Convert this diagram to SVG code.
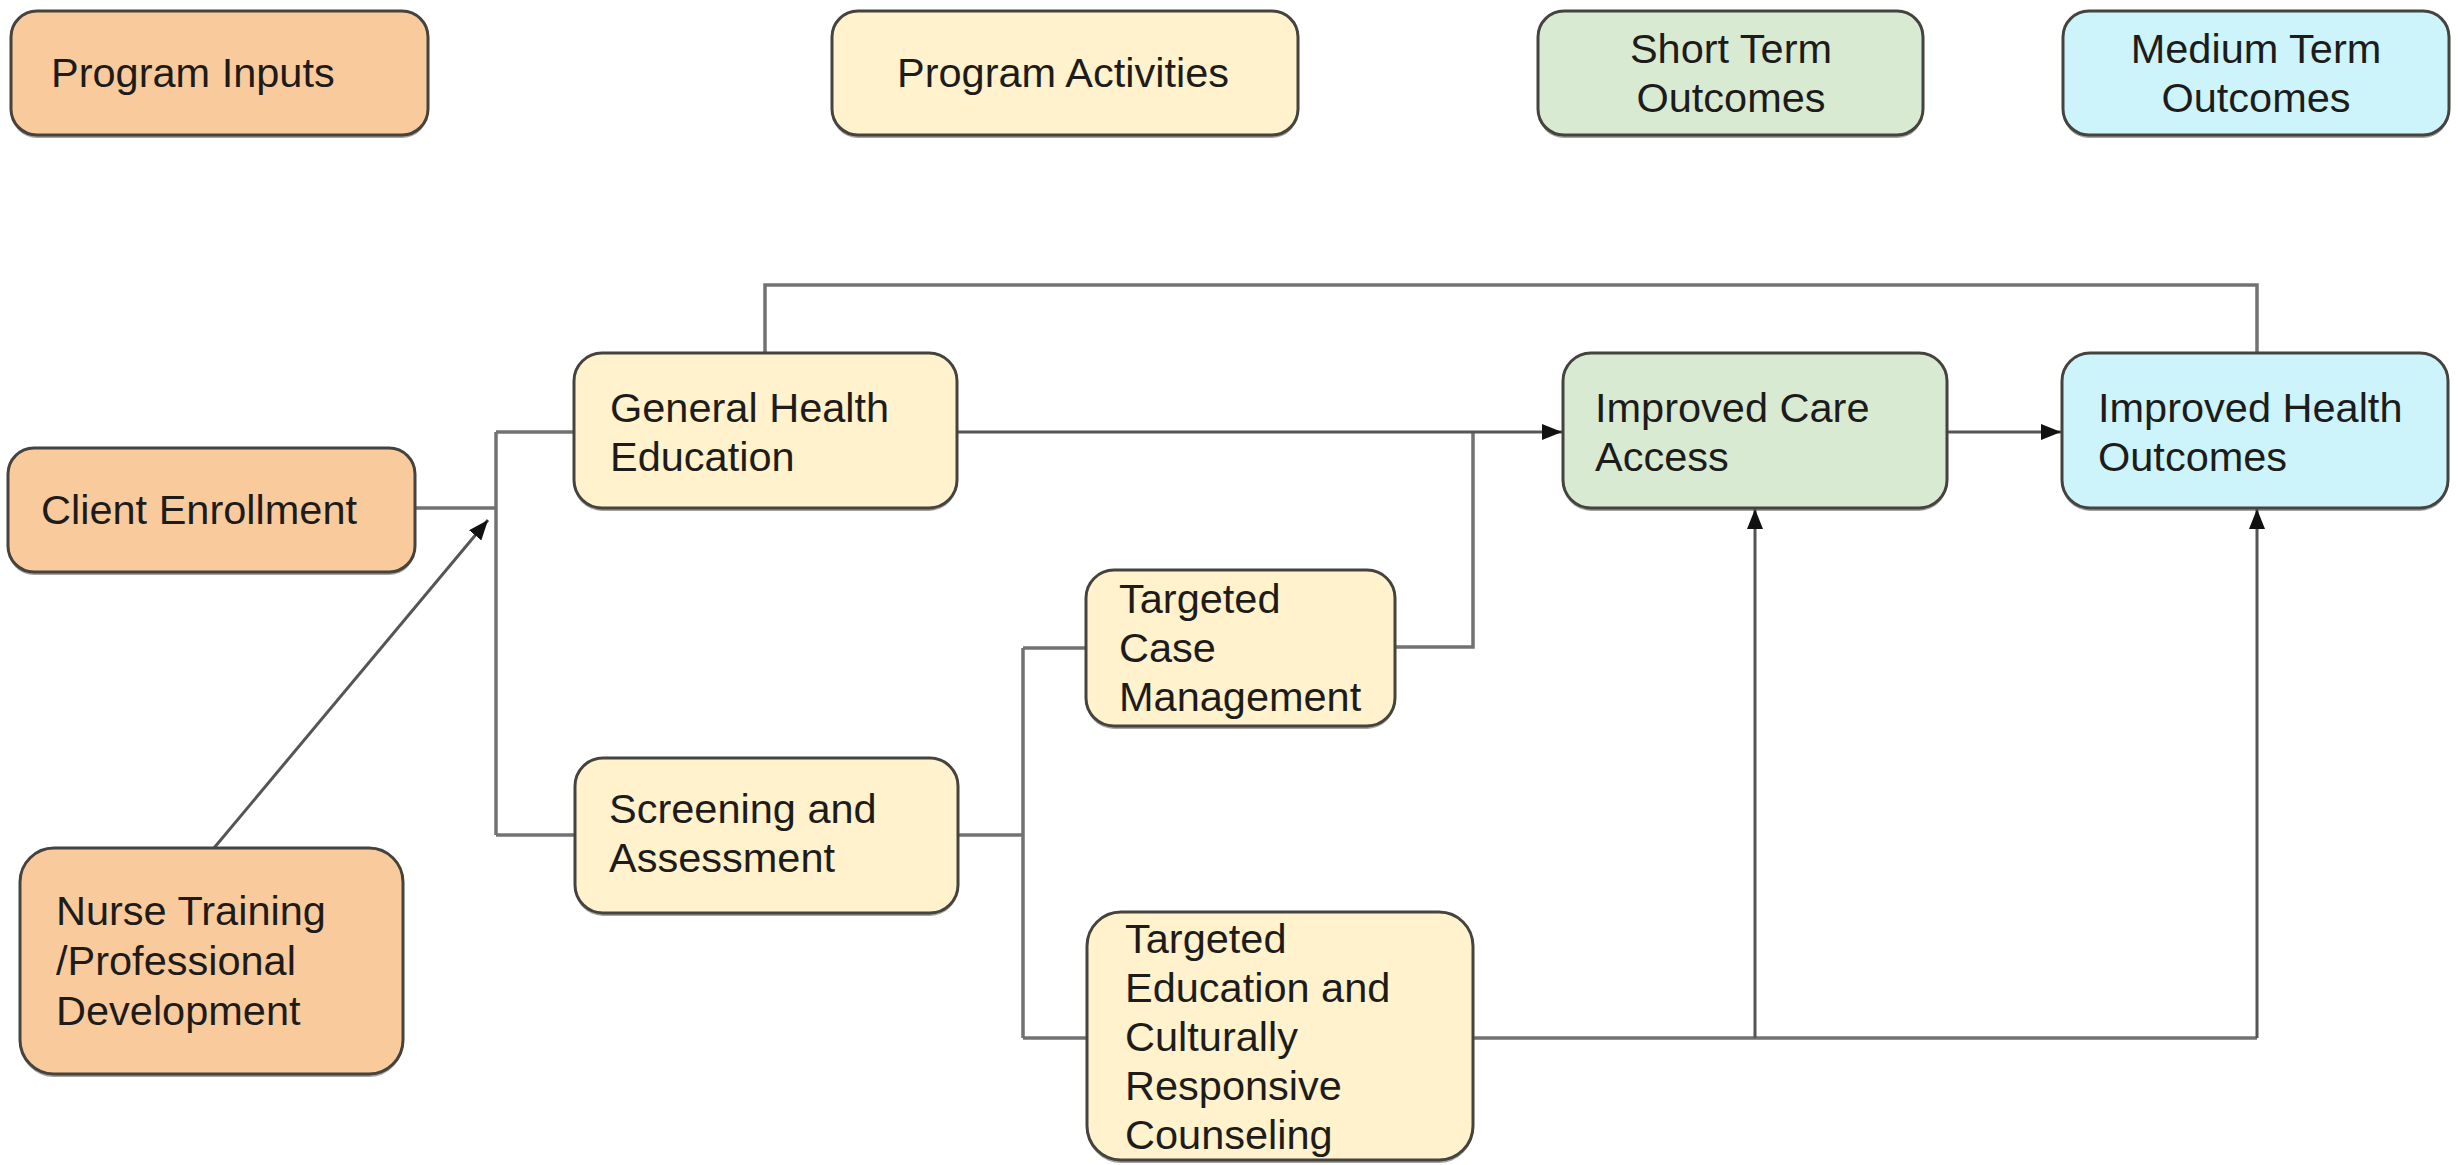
<svg xmlns="http://www.w3.org/2000/svg" width="2458" height="1165" viewBox="0 0 2458 1165">
<defs>
<style>
.box{stroke:#45433e;stroke-width:3}
.sh{fill:#5a5752;opacity:.55}
.in{fill:#f9cb9c}
.act{fill:#fff2cc}
.st{fill:#d9ead3}
.mt{fill:#ccf4fa}
text{font-family:"Liberation Sans",Arial,sans-serif;font-size:41.5px;fill:#1e1c1a}
.c{text-anchor:middle}
.ln{fill:none;stroke:#727272;stroke-width:3.5}
.ar{fill:none;stroke:#555;stroke-width:3;marker-end:url(#ah)}
</style>
<marker id="ah" markerUnits="userSpaceOnUse" markerWidth="22" markerHeight="16" refX="20" refY="8" orient="auto">
<path d="M0,0 L20,8 L0,16 z" fill="#111"/>
</marker>
</defs>
<rect width="2458" height="1165" fill="#ffffff"/>
<g id="connectors">
<path class="ln" d="M415,508 H496"/>
<path class="ln" d="M496,432 V835"/>
<path class="ln" d="M496,432 H574"/>
<path class="ln" d="M496,835 H575"/>
<path class="ln" d="M765,353 V285 H2257 V353"/>
<path class="ln" d="M1395,647 H1473 V432"/>
<path class="ln" d="M958,835 H1023"/>
<path class="ln" d="M1023,648 V1038"/>
<path class="ln" d="M1023,648 H1086"/>
<path class="ln" d="M1023,1038 H1087"/>
<path class="ln" d="M1473,1038 H2257"/>
<path class="ar" d="M214,848 L488,520"/>
<path class="ar" d="M957,432 H1562"/>
<path class="ar" d="M1947,432 H2061"/>
<path class="ar" d="M1755,1038 V509"/>
<path class="ar" d="M2257,1038 V509"/>
</g>
<g id="program-inputs">
<rect class="sh" x="11" y="14" width="417" height="124" rx="26"/>
<rect class="box in" x="11" y="11" width="417" height="124" rx="26"/>
<text x="51" y="87">Program Inputs</text>
</g>
<g id="program-activities">
<rect class="sh" x="832" y="14" width="466" height="124" rx="26"/>
<rect class="box act" x="832" y="11" width="466" height="124" rx="26"/>
<text x="897" y="87">Program Activities</text>
</g>
<g id="short-term-outcomes">
<rect class="sh" x="1538" y="14" width="385" height="124" rx="26"/>
<rect class="box st" x="1538" y="11" width="385" height="124" rx="26"/>
<text class="c" x="1731" y="63">Short Term</text>
<text class="c" x="1731" y="112">Outcomes</text>
</g>
<g id="medium-term-outcomes">
<rect class="sh" x="2063" y="14" width="386" height="124" rx="26"/>
<rect class="box mt" x="2063" y="11" width="386" height="124" rx="26"/>
<text class="c" x="2256" y="63">Medium Term</text>
<text class="c" x="2256" y="112">Outcomes</text>
</g>
<g id="client-enrollment">
<rect class="sh" x="8" y="451" width="407" height="124" rx="26"/>
<rect class="box in" x="8" y="448" width="407" height="124" rx="26"/>
<text x="41" y="524">Client Enrollment</text>
</g>
<g id="general-health-education">
<rect class="sh" x="574" y="356" width="383" height="155" rx="28"/>
<rect class="box act" x="574" y="353" width="383" height="155" rx="28"/>
<text x="610" y="422">General Health</text>
<text x="610" y="471">Education</text>
</g>
<g id="improved-care-access">
<rect class="sh" x="1563" y="356" width="384" height="155" rx="28"/>
<rect class="box st" x="1563" y="353" width="384" height="155" rx="28"/>
<text x="1595" y="422">Improved Care</text>
<text x="1595" y="471">Access</text>
</g>
<g id="improved-health-outcomes">
<rect class="sh" x="2062" y="356" width="386" height="155" rx="28"/>
<rect class="box mt" x="2062" y="353" width="386" height="155" rx="28"/>
<text x="2098" y="422">Improved Health</text>
<text x="2098" y="471">Outcomes</text>
</g>
<g id="targeted-case-management">
<rect class="sh" x="1086" y="573" width="309" height="156" rx="28"/>
<rect class="box act" x="1086" y="570" width="309" height="156" rx="28"/>
<text x="1119" y="613">Targeted</text>
<text x="1119" y="662">Case</text>
<text x="1119" y="711">Management</text>
</g>
<g id="screening-and-assessment">
<rect class="sh" x="575" y="761" width="383" height="155" rx="28"/>
<rect class="box act" x="575" y="758" width="383" height="155" rx="28"/>
<text x="609" y="823">Screening and</text>
<text x="609" y="872">Assessment</text>
</g>
<g id="nurse-training">
<rect class="sh" x="20" y="851" width="383" height="226" rx="34"/>
<rect class="box in" x="20" y="848" width="383" height="226" rx="34"/>
<text x="56" y="925">Nurse Training</text>
<text x="56" y="975">/Professional</text>
<text x="56" y="1025">Development</text>
</g>
<g id="targeted-education-counseling">
<rect class="sh" x="1087" y="915" width="386" height="248" rx="34"/>
<rect class="box act" x="1087" y="912" width="386" height="248" rx="34"/>
<text x="1125" y="953">Targeted</text>
<text x="1125" y="1002">Education and</text>
<text x="1125" y="1051">Culturally</text>
<text x="1125" y="1100">Responsive</text>
<text x="1125" y="1149">Counseling</text>
</g>
</svg>
